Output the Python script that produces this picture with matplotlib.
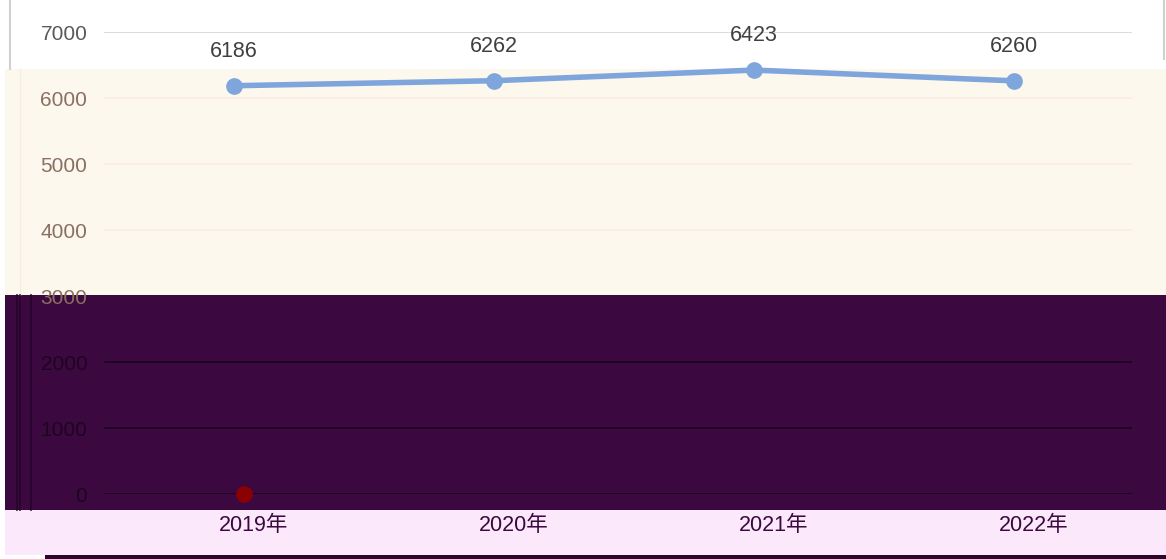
import matplotlib.pyplot as plt
import matplotlib.transforms as mtransforms
from matplotlib.patches import Rectangle
from matplotlib.lines import Line2D

plt.rcParams['font.family'] = ['Liberation Sans', 'Noto Sans CJK SC', 'DejaVu Sans']

years = ['2019年', '2020年', '2021年', '2022年']
values = [6186, 6262, 6423, 6260]
stray_values = [0]          # dark red point sitting on the zero line
y_ticks = [0, 1000, 2000, 3000, 4000, 5000, 6000, 7000]

W, H = 1166, 559
fig = plt.figure(figsize=(W / 100, H / 100), dpi=100)
fig.patch.set_facecolor('white')


def band(x0, y0, x1, y1, color):
    # pixel coords, top-left origin
    fig.patches.append(Rectangle((x0 / W, 1 - y1 / H), (x1 - x0) / W, (y1 - y0) / H,
                                 transform=fig.transFigure, facecolor=color,
                                 edgecolor='none', zorder=-2))


def vline(x, y0, y1, color, lw=1.0):
    fig.lines.append(Line2D([x / W, x / W], [1 - y0 / H, 1 - y1 / H],
                            transform=fig.transFigure, color=color, lw=lw, zorder=-1))


band(5, 69, W, 295, '#fdf8ed')
band(5, 295, W, 510, '#3b0940')
band(5, 510, W, 555, '#fbe9fb')
band(45, 555, W, 559, '#2a0630')
vline(10, 0, 69, '#d0d0d0', 1.5)
vline(1164, 0, 59, '#d0d0d0', 1.5)
vline(20, 69, 295, '#f6eee2', 1.0)
for x in (17, 20, 31):
    vline(x, 295, 510, '#25052a', 1.2)

ax_left, ax_right = 104, 1144
ax_top, ax_bot = 32, 494
ax = fig.add_axes([ax_left / W, 1 - ax_bot / H, (ax_right - ax_left) / W, (ax_bot - ax_top) / H])
ax.set_zorder(2)
ax.set_facecolor('none')
for s in ax.spines.values():
    s.set_visible(False)

x = list(range(len(years)))
ax.set_xlim(-0.5, len(years) - 0.5)
ax.set_ylim(0, 7000)


def region_colors(v):
    # gridline colour, label colour according to the background band
    if v >= 6900:
        return '#d9d9d9', '#595959'
    if v >= 3100:
        return '#fbeee0', '#8a6f62'
    if v >= 2900:
        return '#3b0940', '#8a6f62'
    return '#1e0420', '#1e0420'


for v in y_ticks:
    gc, _ = region_colors(v)
    ax.axhline(v, color=gc, lw=1.3, zorder=1, xmin=-0.009, xmax=0.9875)

ax.set_yticks(y_ticks)
ax.set_yticklabels([str(v) for v in y_ticks], fontsize=15)
for lab, v in zip(ax.get_yticklabels(), y_ticks):
    lab.set_color(region_colors(v)[1])
ax.tick_params(axis='y', length=0, pad=12)

ax.set_xticks(x)
ax.set_xticklabels(years, fontsize=15.5, color='#3b0940')
ax.tick_params(axis='x', length=0, pad=15)
shift = mtransforms.ScaledTranslation(20 / 100, 0, fig.dpi_scale_trans)
for lab in ax.get_xticklabels():
    lab.set_transform(lab.get_transform() + shift)

ax.plot(x, values, color='#7ea6dc', lw=4, marker='o', ms=11, zorder=3, clip_on=False)
for xi, v in zip(x, values):
    ax.annotate(str(v), (xi, v), xytext=(0, 17), textcoords='offset points',
                ha='center', va='bottom', fontsize=15.5, color='#404040')

ax.plot([0.04], stray_values, 'o', color='#8b0000', ms=11, zorder=3, clip_on=False)

fig.savefig('out.png', dpi=100)
